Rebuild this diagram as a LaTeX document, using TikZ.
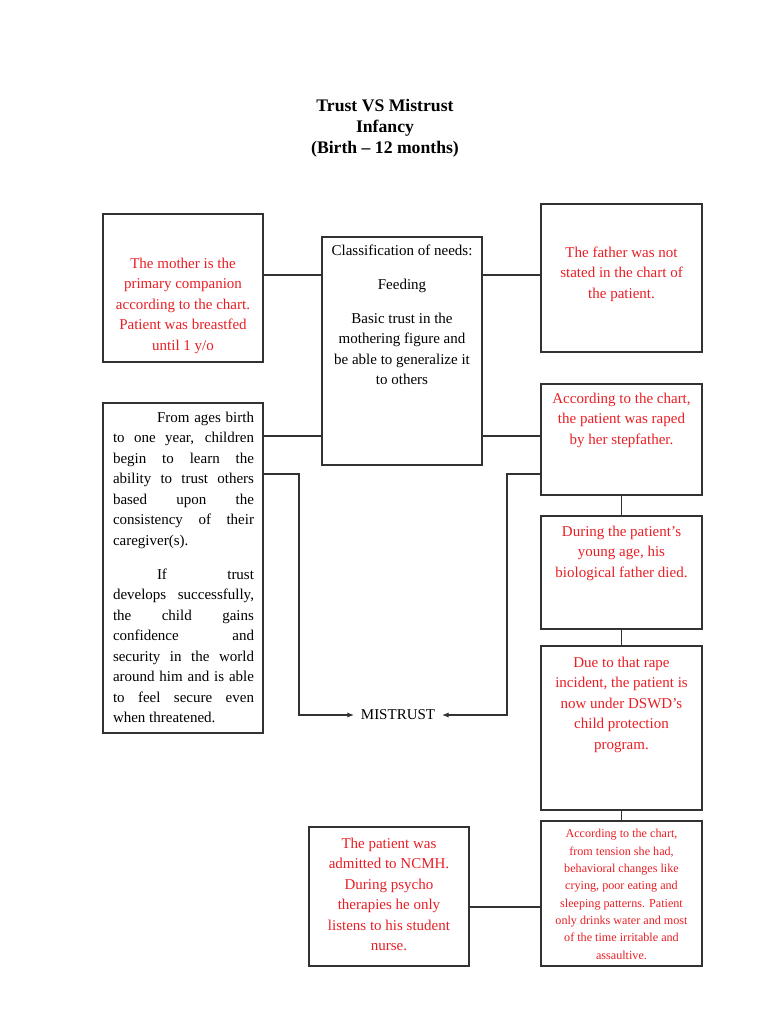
\documentclass[tikz,border=0pt]{standalone}
\usepackage{fontspec}
\setmainfont{Liberation Serif}
\usetikzlibrary{fit,arrows.meta}
\definecolor{notered}{RGB}{232,30,36}
\definecolor{boxline}{RGB}{50,50,50}

\begin{document}
\begin{tikzpicture}[x=0.75pt,y=-0.75pt,
	box/.style={draw=boxline,line width=0.9pt,inner sep=0pt},
	wire/.style={draw=boxline,line width=0.9pt},
	arr/.style={wire,-{Latex[length=5pt,width=4pt]}},
	body/.style={font=\fontsize{11.25}{15.4}\selectfont,inner sep=0pt,anchor=north,align=center},
	note/.style={body,text=notered}]
		%%%%% START %%%%%
		\useasboundingbox (0,0) rectangle (768,1024);
		
		\node[anchor=north,align=center,inner sep=0pt,font=\fontsize{13.25}{15.75}\bfseries\selectfont] (title) at (385,98.5)
			{Trust VS Mistrust\\Infancy\\(Birth -- 12 months)};
		
		% boxes
		\node[box, fit={(103,214) (263,362)}] (mother) {};
		\node[box, fit={(322,237) (482,465)}] (needs) {};
		\node[box, fit={(541,204) (702,352)}] (father) {};
		\node[box, fit={(103,403) (263,733)}] (stages) {};
		\node[box, fit={(541,384) (702,495)}] (raped) {};
		\node[box, fit={(541,516) (702,629)}] (died) {};
		\node[box, fit={(541,646) (702,810)}] (dswd) {};
		\node[box, fit={(541,821) (702,966)}] (tension) {};
		\node[box, fit={(309,827) (469,966)}] (ncmh) {};
		
		% texts
		\node[note] (mothertxt) at (183,257.5)
			{The mother is the\\primary companion\\according to the chart.\\Patient was breastfed\\until 1 y/o};
		\node[body] (needstxt) at (402,244.5)
			{Classification of needs:\\[10pt]Feeding\\[10pt]Basic trust in the\\mothering figure and\\be able to generalize it\\to others};
		\node[note] (fathertxt) at (621.5,246.5)
			{The father was not\\stated in the chart of\\the patient.};
		\node[body,align=justify,text width=105.75pt] (stagestxt) at (183.5,411.5)
			{\hspace*{33pt}From ages birth\linebreak to one year, children\linebreak begin to learn the\linebreak ability to trust others\linebreak based upon the\linebreak consistency of their\linebreak caregiver(s).\par\vspace{10pt}%
			\hspace*{33pt}If trust\linebreak develops successfully,\linebreak the child gains\linebreak confidence and\linebreak security in the world\linebreak around him and is able\linebreak to feel secure even\linebreak when threatened.};
		\node[note] (rapedtxt) at (621.5,392.5)
			{According to the chart,\\the patient was raped\\by her stepfather.};
		\node[note] (diedtxt) at (621.5,525.5)
			{During the patient’s\\young age, his\\biological father died.};
		\node[note] (dswdtxt) at (621.5,656.5)
			{Due to that rape\\incident, the patient is\\now under DSWD's\\child protection\\program.};
		\node[note,font=\fontsize{9.1}{13}\selectfont] (tensiontxt) at (621.5,829)
			{According to the chart,\\from tension she had,\\behavioral changes like\\crying, poor eating and\\sleeping patterns. Patient\\only drinks water and most\\of the time irritable and\\assaultive.};
		\node[note] (ncmhtxt) at (389,837.5)
			{The patient was\\admitted to NCMH.\\During psycho\\therapies he only\\listens to his student\\nurse.};
		\node[font=\fontsize{11.25}{15.4}\selectfont,inner sep=5pt] (mistrust) at (398,715) {MISTRUST};
		
		% connectors
		\draw[wire] (mother.east |- 0,275) -- (needs.west |- 0,275);
		\draw[wire] (needs.east |- 0,275) -- (father.west |- 0,275);
		\draw[wire] (stages.east |- 0,436) -- (needs.west |- 0,436);
		\draw[wire] (needs.east |- 0,436) -- (raped.west |- 0,436);
		\draw[arr] (stages.east |- 0,474) -- (299,474) |- (mistrust.west);
		\draw[arr] (raped.west |- 0,474) -- (507,474) |- (mistrust.east);
		\draw[wire] (raped) -- (died);
		\draw[wire] (died) -- (dswd);
		\draw[wire] (dswd) -- (tension);
		\draw[wire] (ncmh.east |- 0,907) -- (tension.west |- 0,907);
		
		%%%%% END %%%%%
\end{tikzpicture}
\end{document}
